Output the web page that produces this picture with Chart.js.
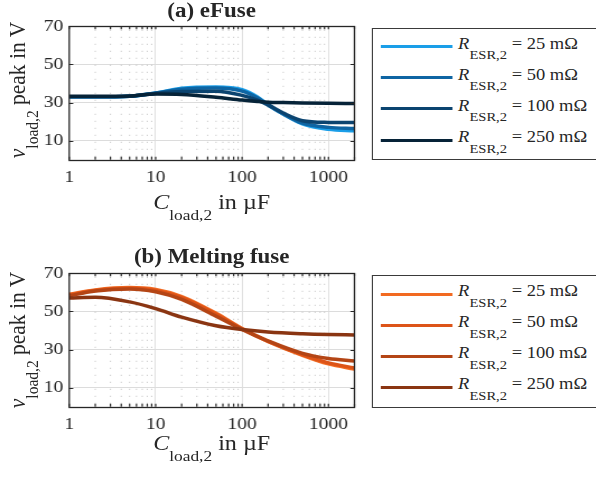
<!DOCTYPE html>
<html>
<head>
<meta charset="utf-8">
<script src="https://cdn.jsdelivr.net/npm/chart.js@4.4.0/dist/chart.umd.min.js"></script>
<style>
  body { margin: 0; width: 596px; height: 477px; overflow: hidden; position: relative; background: #fff;
         font-family: "Liberation Serif", "Times New Roman", serif; color: #262626; }
  /* the figure is a bit wider than tall in its text, so draw narrow and stretch */
  #stage { position: absolute; left: 0; top: 0; width: 532px; height: 477px;
           transform: scaleX(1.12); transform-origin: 0 0; }
  canvas { position: absolute; left: 0; }
  .title { position: absolute; left: 89px; width: 200px; text-align: center; font-weight: bold;
           font-size: 20.5px; line-height: 20.5px; white-space: nowrap; }
  .xlab { position: absolute; left: 89px; width: 200px; text-align: center; font-size: 21.5px;
          line-height: 21.5px; white-space: nowrap; }
  .ylab { position: absolute; font-size: 21.5px; line-height: 21.5px; white-space: nowrap;
          transform: translate(-50%, -50%) rotate(-90deg); }
  .sub { font-size: 15.5px; position: relative; top: 11px; }
  .legend { position: absolute; left: 332px; width: 220px; border: 1px solid #3a3a3a; background: #fff; }
  .row { position: absolute; left: 7px; height: 0; }
  .swatch { position: absolute; left: 0; top: -1.5px; width: 64px; height: 3px; }
  .txt { position: absolute; left: 69px; top: -11px; font-size: 16.5px; line-height: 16.5px; white-space: nowrap; }
  .txt .sub { font-size: 13px; top: 10.5px; }
</style>
</head>
<body>
<div id="stage">
<canvas id="chartA" width="330" height="235" style="top:0"></canvas>
<canvas id="chartB" width="330" height="235" style="top:247px"></canvas>

<div class="title" style="top:-0.5px">(a) eFuse</div>
<div class="xlab" style="top:192px"><i>C</i><span class="sub">load,2</span> in µF</div>
<div class="ylab" style="left:16.6px;top:90px"><i>v</i><span class="sub">load,2</span> peak in V</div>
<div class="legend" id="legendA" style="top:28px;height:130px"></div>

<div class="title" style="top:246px">(b) Melting fuse</div>
<div class="xlab" style="top:433px"><i>C</i><span class="sub">load,2</span> in µF</div>
<div class="ylab" style="left:16.6px;top:340px"><i>v</i><span class="sub">load,2</span> peak in V</div>
<div class="legend" id="legendB" style="top:275px;height:131px"></div>
</div>

<script>
// load capacitance in uF (x) and peak load voltage in V (y)
var capEfuse = [1, 2, 5, 10, 20, 50, 100, 150, 200, 300, 500, 1000, 2000];
var efuse25  = [33.0, 33.0, 33.3, 35.0, 37.5, 38.2, 36.8, 33.0, 28.8, 24.0, 18.8, 16.0, 15.2];
var efuse50  = [33.0, 33.0, 33.3, 35.0, 37.0, 37.6, 36.0, 32.5, 28.8, 24.0, 19.2, 17.0, 16.4];
var efuse100 = [33.0, 33.0, 33.3, 34.8, 35.8, 36.0, 33.8, 31.3, 28.8, 24.5, 20.5, 19.6, 19.5];
var efuse250 = [33.3, 33.3, 33.5, 34.5, 34.3, 32.8, 31.3, 30.6, 30.2, 30.0, 29.8, 29.6, 29.5];

var capMelt = [1, 2, 5, 10, 20, 50, 100, 200, 500, 1000, 2000];
var melt25  = [59.0, 61.3, 62.5, 61.5, 57.8, 49.0, 41.0, 34.3, 27.0, 22.5, 19.8];
var melt50  = [58.6, 61.0, 62.2, 61.0, 57.2, 48.5, 40.8, 34.3, 27.3, 23.0, 20.4];
var melt100 = [58.2, 60.7, 61.8, 60.3, 56.3, 47.5, 40.5, 34.5, 28.0, 25.3, 24.0];
var melt250 = [57.0, 57.4, 55.0, 51.5, 47.0, 42.5, 40.5, 39.2, 38.3, 37.9, 37.7];

var esrLabels = ['25', '50', '100', '250'];
var blueColors = ['#1a9ee8', '#0e65a3', '#0b4470', '#062338'];
var orangeColors = ['#f26a21', '#dd5418', '#b44515', '#8a3512'];

var yTicks = [10, 30, 50, 70];
var xLabelTicks = [1, 10, 100, 1000];
var xMax = 2000;

var fontFamily = '"Liberation Serif", "Times New Roman", serif';

// 1..9 per decade, like a matlab log axis
var xAllTicks = [];
xLabelTicks.forEach(function(d) {
    for (var m = 1; m <= 9; m++) {
        if (d * m <= xMax) xAllTicks.push(d * m);
    }
});

// dotted minor grid, black box and inward ticks
var matlabAxes = {
    id: 'matlabAxes',
    beforeDatasetsDraw: function(chart) {
        var ctx = chart.ctx, a = chart.chartArea, xs = chart.scales.x;
        ctx.save();
        ctx.strokeStyle = '#b8b8b8';
        ctx.lineWidth = 0.9;
        ctx.setLineDash([1, 6]);
        xs.ticks.forEach(function(t) {
            if (xLabelTicks.indexOf(t.value) >= 0) return;
            var px = xs.getPixelForValue(t.value);
            ctx.beginPath();
            ctx.moveTo(px, a.bottom - 3);
            ctx.lineTo(px, a.top);
            ctx.stroke();
        });
        ctx.restore();
    },
    afterDatasetsDraw: function(chart) {
        var ctx = chart.ctx, a = chart.chartArea, xs = chart.scales.x, ys = chart.scales.y;
        ctx.save();
        ctx.strokeStyle = '#262626';
        ctx.lineWidth = 1.2;
        ctx.beginPath();
        xs.ticks.forEach(function(t) {
            var px = xs.getPixelForValue(t.value);
            ctx.moveTo(px, a.bottom); ctx.lineTo(px, a.bottom - 3);
            ctx.moveTo(px, a.top); ctx.lineTo(px, a.top + 3);
        });
        ys.ticks.forEach(function(t) {
            var py = Math.round(ys.getPixelForValue(t.value)) + 0.5;
            ctx.moveTo(a.left, py); ctx.lineTo(a.left + 3.6, py);
            ctx.moveTo(a.right, py); ctx.lineTo(a.right - 3.6, py);
        });
        ctx.stroke();
        ctx.lineWidth = 1.3;
        ctx.strokeRect(a.left, Math.round(a.top) + 0.5, a.right - a.left, Math.round(a.bottom - a.top));
        ctx.restore();
    }
};

function makeChart(id, caps, series, colors) {
    var datasets = series.map(function(s, i) {
        return {
            label: 'R_ESR,2 = ' + esrLabels[i] + ' mΩ',
            data: caps.map(function(c, j) { return { x: c, y: s[j] }; }),
            borderColor: colors[i],
            borderWidth: 3.5,
            pointRadius: 0,
            cubicInterpolationMode: 'monotone',
            order: series.length - i
        };
    });
    return new Chart(document.getElementById(id), {
        type: 'line',
        data: { datasets: datasets },
        options: {
            responsive: false,
            animation: false,
            devicePixelRatio: 1,
            layout: { padding: { left: 0, right: 13.5, top: 26.3, bottom: 0 } },
            plugins: { legend: { display: false }, tooltip: { enabled: false } },
            scales: {
                x: {
                    type: 'logarithmic',
                    min: 1,
                    max: xMax,
                    afterBuildTicks: function(scale) {
                        scale.ticks = xAllTicks.map(function(v) { return { value: v }; });
                    },
                    afterFit: function(scale) { scale.height = 75.2; },
                    border: { display: false },
                    grid: {
                        drawTicks: false,
                        lineWidth: 0.9,
                        color: function(c) {
                            return (c.tick && xLabelTicks.indexOf(c.tick.value) > 0) ? '#dcdcdc' : 'rgba(0,0,0,0)';
                        }
                    },
                    ticks: {
                        autoSkip: false,
                        maxRotation: 0,
                        padding: 7,
                        color: '#262626',
                        font: { family: fontFamily, size: 17.5 },
                        callback: function(v) { return xLabelTicks.indexOf(v) >= 0 ? String(v) : ''; }
                    }
                },
                y: {
                    min: 0,
                    max: 70,
                    afterBuildTicks: function(scale) {
                        scale.ticks = yTicks.map(function(v) { return { value: v }; });
                    },
                    afterFit: function(scale) { scale.width = 61.8; },
                    border: { display: false },
                    grid: { drawTicks: false, color: '#dcdcdc' },
                    ticks: {
                        padding: 5.4,
                        color: '#262626',
                        font: { family: fontFamily, size: 17.5 }
                    }
                }
            }
        },
        plugins: [matlabAxes]
    });
}

function makeLegend(boxId, colors, firstRow) {
    var box = document.getElementById(boxId);
    esrLabels.forEach(function(lab, i) {
        var row = document.createElement('div');
        row.className = 'row';
        row.style.top = (firstRow + i * 31.1) + 'px';
        row.innerHTML = '<span class="swatch" style="background:' + colors[i] + '"></span>' +
            '<span class="txt"><i>R</i><span class="sub">ESR,2</span> = ' + lab + ' m\u03A9</span>';
        box.appendChild(row);
    });
}

makeChart('chartA', capEfuse, [efuse25, efuse50, efuse100, efuse250], blueColors);
makeChart('chartB', capMelt, [melt25, melt50, melt100, melt250], orangeColors);
makeLegend('legendA', blueColors, 17.7);
makeLegend('legendB', orangeColors, 18);
</script>
</body>
</html>
